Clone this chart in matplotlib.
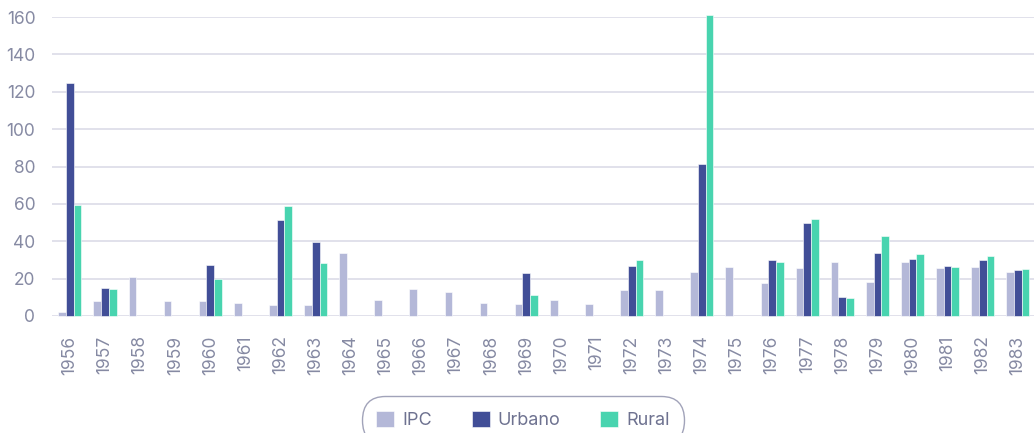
import matplotlib.pyplot as plt
import numpy as np

plt.rcParams['font.family'] = ['Inter', 'DejaVu Sans']

years = [str(y) for y in range(1956, 1984)]
ipc = [2, 8, 20.7, 7.8, 8, 7.1, 5.7, 6, 33.5, 8.4, 14.3, 12.7, 7, 6.4,
       8.4, 6.4, 13.9, 13.8, 23.7, 26.2, 17.7, 25.7, 28.7, 18.2, 28.7, 25.7, 26.2, 23.7]
urbano = [124.5, 14.8, 0, 0, 27.1, 0, 51.4, 39.6, 0, 0, 0, 0, 0, 23.2,
          0, 0, 26.9, 0, 81.5, 0, 29.8, 49.8, 10.2, 33.5, 30.3, 26.6, 29.8, 24.8]
rural = [59.4, 14.3, 0, 0, 19.6, 0, 58.9, 28.2, 0, 0, 0, 0, 0, 11,
         0, 0, 29.8, 0, 161, 0, 29.1, 51.9, 9.6, 42.6, 33.2, 26.2, 32.1, 25.1]

c_ipc = '#b4b8d8'
c_urb = '#414e97'
c_rur = '#48d4af'
txt = '#868aa3'

fig = plt.figure(figsize=(10.35, 4.33), dpi=100)
ax = fig.add_axes([52 / 1035, 117 / 433, 982 / 1035, 299 / 433])

x = np.arange(len(years))
w = 0.22
for off, vals, col, lab in [(-w, ipc, c_ipc, 'IPC'), (0, urbano, c_urb, 'Urbano'),
                            (w, rural, c_rur, 'Rural')]:
    bars = ax.bar(x + off, vals, w, color=col, edgecolor='white', linewidth=0.4,
                  label=lab, zorder=3)
    for b in bars:
        b.set_clip_on(False)

ax.set_xlim(-0.51, 27.46)
ax.set_ylim(0, 160)
ax.set_yticks(range(0, 161, 20))
ax.set_xticks(x)
ax.set_xticklabels(years, rotation=90)
ax.grid(axis='y', color='#dcdce8', linewidth=1.2, zorder=0)
for s in ax.spines.values():
    s.set_visible(False)
ax.tick_params(axis='both', length=0, labelsize=12.5, colors=txt)
ax.tick_params(axis='y', pad=12)
ax.tick_params(axis='x', pad=14)

leg = fig.legend(loc='center', bbox_to_anchor=(523 / 1035, 1 - 420 / 433), ncol=3,
                 frameon=True, fontsize=13, handlelength=1.0,
                 handleheight=1.0, columnspacing=2.2, handletextpad=0.45,
                 borderpad=0.55, borderaxespad=0)
fr = leg.get_frame()
fr.set_edgecolor('#8a8ca8')
fr.set_linewidth(1.0)
fr.set_boxstyle('round,pad=0.25,rounding_size=1.3')
for t in leg.get_texts():
    t.set_color('#6e7290')

fig.savefig('out.png', dpi=100)
